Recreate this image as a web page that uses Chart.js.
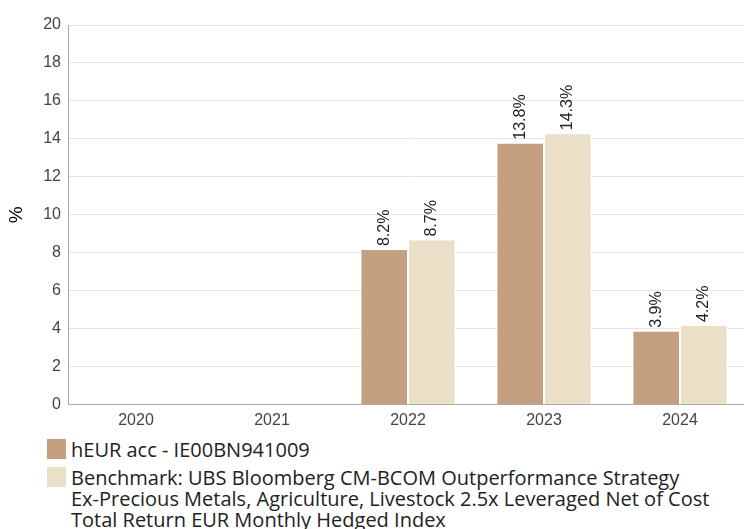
<!DOCTYPE html>
<html>
<head>
<meta charset="utf-8">
<script src="https://cdn.jsdelivr.net/npm/chart.js@4/dist/chart.umd.min.js"></script>
<style>
  html, body { margin: 0; padding: 0; background: #fff; }
  #wrap { position: relative; width: 744px; height: 529px; overflow: hidden; }
  #box { position: absolute; left: 0; top: 0; width: 748px; height: 436px; }
  #legend { position: absolute; left: 47px; top: 439px; font-family: "Open Sans", sans-serif; font-size: 20px; color: #222; }
  .item { position: relative; padding-left: 24px; line-height: 21px; margin-bottom: 7px; }
  .sw { position: absolute; left: 0; top: 0px; width: 19px; height: 20px; }
</style>
</head>
<body>
<div id="wrap">
  <div id="box"><canvas id="myChart"></canvas></div>
  <div id="legend"></div>
</div>
<script>
const years = ['2020', '2021', '2022', '2023', '2024'];
const fundValues = [null, null, 8.2, 13.8, 3.9];
const benchValues = [null, null, 8.7, 14.3, 4.2];
const fundName = 'hEUR acc - IE00BN941009';
const benchName = 'Benchmark: UBS Bloomberg CM-BCOM Outperformance Strategy Ex-Precious Metals, Agriculture, Livestock 2.5x Leveraged Net of Cost Total Return EUR Monthly Hedged Index';
const benchLines = ['Benchmark: UBS Bloomberg CM-BCOM Outperformance Strategy',
  'Ex-Precious Metals, Agriculture, Livestock 2.5x Leveraged Net of Cost',
  'Total Return EUR Monthly Hedged Index'];

const fundColor = '#c49f80';
const benchColor = '#eae0c8';

// labels above bars, turned on their side
const barLabels = {
  id: 'barLabels',
  afterDatasetsDraw(chart) {
    const ctx = chart.ctx;
    chart.data.datasets.forEach((ds, i) => {
      const meta = chart.getDatasetMeta(i);
      meta.data.forEach((bar, j) => {
        const v = ds.data[j];
        if (v === null) return;
        ctx.save();
        ctx.translate(bar.x, bar.y - 3);
        ctx.rotate(-Math.PI / 2);
        ctx.font = '16px "Liberation Sans", Arial, sans-serif';
        ctx.fillStyle = '#222';
        ctx.textAlign = 'left';
        ctx.textBaseline = 'middle';
        ctx.fillText(v.toFixed(1) + '%', 0, 0);
        ctx.restore();
      });
    });
  }
};

function makeLegend() {
  const target = document.querySelector('#legend');
  const items = [
    { color: fundColor, text: fundName },
    { color: benchColor, text: benchLines.join('<br>') }
  ];
  target.innerHTML = '';
  items.forEach((item) => {
    target.innerHTML += `<div class="item"><span class="sw" style="background:${item.color}"></span>${item.text}</div>`;
  });
}

function initChart(target) {
  return new Chart(target, {
    type: 'bar',
    data: {
      labels: years,
      datasets: [
        { label: fundName, data: fundValues, backgroundColor: fundColor, borderColor: '#fff', borderWidth: 1,
          categoryPercentage: 0.7, barPercentage: 1 },
        { label: benchName, data: benchValues, backgroundColor: benchColor, borderColor: '#fff', borderWidth: 1,
          categoryPercentage: 0.7, barPercentage: 1 }
      ]
    },
    options: {
      responsive: true,
      maintainAspectRatio: false,
      animation: false,
      layout: { padding: { top: 25, right: 0, bottom: 0, left: 0 } },
      plugins: { legend: { display: false }, tooltip: { enabled: false } },
      scales: {
        x: {
          grid: { display: false, drawTicks: false },
          border: { color: '#aaa', width: 1 },
          ticks: { color: '#444', font: { size: 16, family: '"Liberation Sans", Arial' }, padding: 6 }
        },
        y: {
          min: 0,
          max: 20,
          ticks: { stepSize: 2, color: '#444', font: { size: 16, family: '"Liberation Sans", Arial' }, padding: 7 },
          grid: { color: '#e4e4e4', drawTicks: false },
          border: { color: '#aaa', width: 1 },
          title: { display: true, text: '%', color: '#000', font: { size: 19, family: '"Liberation Sans", Arial' }, padding: { top: 5, bottom: 0 } },
          afterFit(scale) { scale.width = 68; }
        }
      }
    },
    plugins: [barLabels]
  });
}

document.addEventListener('DOMContentLoaded', () => {
  makeLegend();
  initChart(document.querySelector('#myChart'));
});
</script>
</body>
</html>
